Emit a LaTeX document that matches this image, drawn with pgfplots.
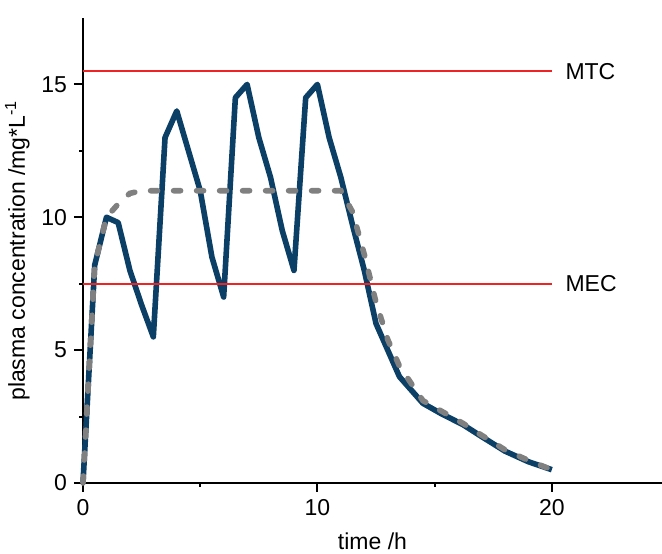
\documentclass[border=0pt]{standalone}
\usepackage{fontspec}
\setmainfont{Liberation Sans}
\usepackage{pgfplots}
\pgfplotsset{compat=1.18}
\definecolor{navy}{HTML}{0B3F66}
\definecolor{mygray}{HTML}{808080}
\definecolor{myred}{HTML}{EE2424}
\begin{document}
\begin{tikzpicture}
\begin{axis}[
  scale only axis,
  width=289.5pt, height=232.5pt,
  xmin=0, xmax=24.7, ymin=0, ymax=17.5,
  axis lines*=left,
  axis line style={line width=1pt, black},
  xtick={0,10,20}, ytick={0,5,10,15},
  minor x tick num=1, minor y tick num=1,
  tick align=outside,
  major tick length=4.5pt, minor tick length=2pt,
  every tick/.style={black, line width=1pt},
  font=\fontsize{11.5}{13}\selectfont,
  /pgf/number format/assume math mode=true,
  xlabel={time /h},
  ylabel={plasma concentration /mg*L\textsuperscript{-1}},
  xlabel style={yshift=-2pt},
  ylabel style={yshift=-1pt},
  clip=false,
]
\addplot[navy, line width=2.8pt, line join=round] coordinates {
  (0,0) (0.5,8.2) (1,10) (1.5,9.8) (2,8) (2.5,6.7) (3,5.5)
  (3.5,13) (4,14) (4.5,12.5) (5,11) (5.5,8.5) (6,7)
  (6.5,14.5) (7,15) (7.5,13) (8,11.5) (8.5,9.5) (9,8)
  (9.5,14.5) (10,15) (10.5,13) (11,11.5) (11.5,9.7) (12,8) (12.5,6)
  (13.5,4) (14.5,3) (15.3,2.6) (16.2,2.2) (17,1.75) (18,1.2) (19,0.8) (20,0.5)
};
\addplot[mygray, line width=2.8pt, line cap=round, dash pattern=on 3.5pt off 8pt] coordinates {
  (0,0) (0.5,8.2) (1,10) (1.5,10.5) (2,10.9) (2.5,11) (11,11)
  (11.5,10.2) (12,8.6) (12.5,6.8) (13,5.4) (13.5,4.4) (14.5,3.1)
  (15.3,2.7) (16.2,2.25) (17,1.8) (18,1.25) (19,0.85) (20,0.5)
};
\addplot[myred, line width=1pt] coordinates {(0,15.5) (20,15.5)}
  node[pos=1, anchor=west, xshift=3pt, black] {MTC};
\addplot[myred, line width=1pt] coordinates {(0,7.5) (20,7.5)}
  node[pos=1, anchor=west, xshift=3pt, black] {MEC};
\end{axis}
\pgfresetboundingbox
\path ([shift={(-41.5pt,-35.5pt)}]current axis.south west) rectangle ([shift={(0pt,9pt)}]current axis.north east);
\end{tikzpicture}
\end{document}
